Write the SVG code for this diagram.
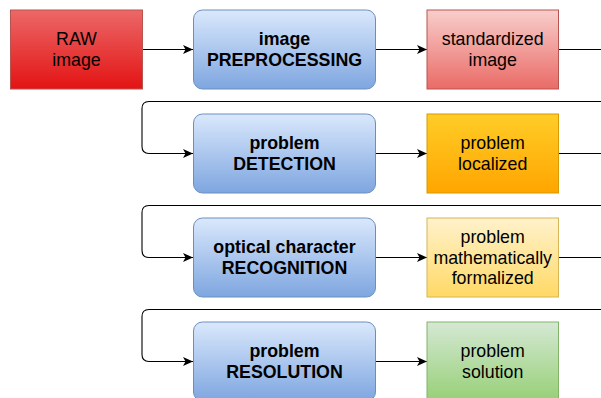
<svg xmlns="http://www.w3.org/2000/svg" width="601" height="398" viewBox="0 0 601 398">
<defs>
<linearGradient id="gRaw" x1="0" y1="0" x2="0" y2="1"><stop offset="0" stop-color="#EC6868"/><stop offset="1" stop-color="#E31313"/></linearGradient>
<linearGradient id="gBlue" x1="0" y1="0" x2="0" y2="1"><stop offset="0" stop-color="#DAE8FC"/><stop offset="1" stop-color="#7EA6E0"/></linearGradient>
<linearGradient id="gPink" x1="0" y1="0" x2="0" y2="1"><stop offset="0" stop-color="#F8CECC"/><stop offset="1" stop-color="#EA6B66"/></linearGradient>
<linearGradient id="gOrange" x1="0" y1="0" x2="0" y2="1"><stop offset="0" stop-color="#FFCD28"/><stop offset="1" stop-color="#FFA500"/></linearGradient>
<linearGradient id="gYellow" x1="0" y1="0" x2="0" y2="1"><stop offset="0" stop-color="#FFF2CC"/><stop offset="1" stop-color="#FFD966"/></linearGradient>
<linearGradient id="gGreen" x1="0" y1="0" x2="0" y2="1"><stop offset="0" stop-color="#D5E8D4"/><stop offset="1" stop-color="#97D077"/></linearGradient>
<marker id="arrow" markerUnits="userSpaceOnUse" markerWidth="12" markerHeight="12" viewBox="-11 -6 12 12" refX="0" refY="0" orient="auto">
<path d="M0,0 L-10,-4.6 L-7.5,0 L-10,4.6 Z" fill="#000"/>
</marker>
<style>
text{font-family:"Liberation Sans",Arial,Helvetica,sans-serif;font-size:17.8px;fill:#000;text-anchor:middle;dominant-baseline:central}
.b{font-weight:bold}
.conn{fill:none;stroke:#000;stroke-width:1.1}
</style>
</defs>
<g id="connectors">
<path class="conn" d="M142.5,49.5 H193" marker-end="url(#arrow)"/>
<path class="conn" d="M375.5,49.5 H427" marker-end="url(#arrow)"/>
<path class="conn" d="M558.5,49.5 H603 Q610,49.5 610,56.5 V94.5 Q610,101.5 603,101.5 H149 Q142,101.5 142,108.5 V146.5 Q142,153.5 149,153.5 H193" marker-end="url(#arrow)"/>
<path class="conn" d="M375.5,153.5 H427" marker-end="url(#arrow)"/>
<path class="conn" d="M558.5,153.5 H603 Q610,153.5 610,160.5 V198.5 Q610,205.5 603,205.5 H149 Q142,205.5 142,212.5 V250.5 Q142,257.5 149,257.5 H193" marker-end="url(#arrow)"/>
<path class="conn" d="M375.5,257.5 H427" marker-end="url(#arrow)"/>
<path class="conn" d="M558.5,257.5 H603 Q610,257.5 610,264.5 V302.5 Q610,309.5 603,309.5 H149 Q142,309.5 142,316.5 V354.5 Q142,361.5 149,361.5 H193" marker-end="url(#arrow)"/>
<path class="conn" d="M375.5,361.5 H427" marker-end="url(#arrow)"/>
</g>
<g id="raw-image">
<rect x="10.5" y="10" width="132" height="79" fill="url(#gRaw)" stroke="#B85450"/>
<text x="76.5" y="39.3">RAW</text>
<text x="76.5" y="59.8">image</text>
</g>
<g id="image-preprocessing">
<rect x="193.5" y="10" width="182" height="79" rx="9" fill="url(#gBlue)" stroke="#6C8EBF"/>
<text class="b" x="284.5" y="39.3">image</text>
<text class="b" x="284.5" y="59.8">PREPROCESSING</text>
</g>
<g id="standardized-image">
<rect x="427" y="10" width="131.5" height="79" fill="url(#gPink)" stroke="#B85450"/>
<text x="492.7" y="39.3">standardized</text>
<text x="492.7" y="59.8">image</text>
</g>
<g id="problem-detection">
<rect x="193.5" y="114" width="182" height="79" rx="9" fill="url(#gBlue)" stroke="#6C8EBF"/>
<text class="b" x="284.5" y="143.3">problem</text>
<text class="b" x="284.5" y="163.8">DETECTION</text>
</g>
<g id="problem-localized">
<rect x="427" y="114" width="131.5" height="79" fill="url(#gOrange)" stroke="#D79B00"/>
<text x="492.7" y="143.3">problem</text>
<text x="492.7" y="163.8">localized</text>
</g>
<g id="ocr">
<rect x="193.5" y="218" width="182" height="79" rx="9" fill="url(#gBlue)" stroke="#6C8EBF"/>
<text class="b" x="284.5" y="247.3">optical character</text>
<text class="b" x="284.5" y="267.8">RECOGNITION</text>
</g>
<g id="problem-formalized">
<rect x="427" y="218" width="131.5" height="79" fill="url(#gYellow)" stroke="#D6B656"/>
<text x="492.7" y="237">problem</text>
<text x="492.7" y="257.5">mathematically</text>
<text x="492.7" y="278">formalized</text>
</g>
<g id="problem-resolution">
<rect x="193.5" y="322" width="182" height="79" rx="9" fill="url(#gBlue)" stroke="#6C8EBF"/>
<text class="b" x="284.5" y="351.3">problem</text>
<text class="b" x="284.5" y="371.8">RESOLUTION</text>
</g>
<g id="problem-solution">
<rect x="427" y="322" width="131.5" height="79" fill="url(#gGreen)" stroke="#82B366"/>
<text x="492.7" y="351.3">problem</text>
<text x="492.7" y="371.8">solution</text>
</g>
</svg>
